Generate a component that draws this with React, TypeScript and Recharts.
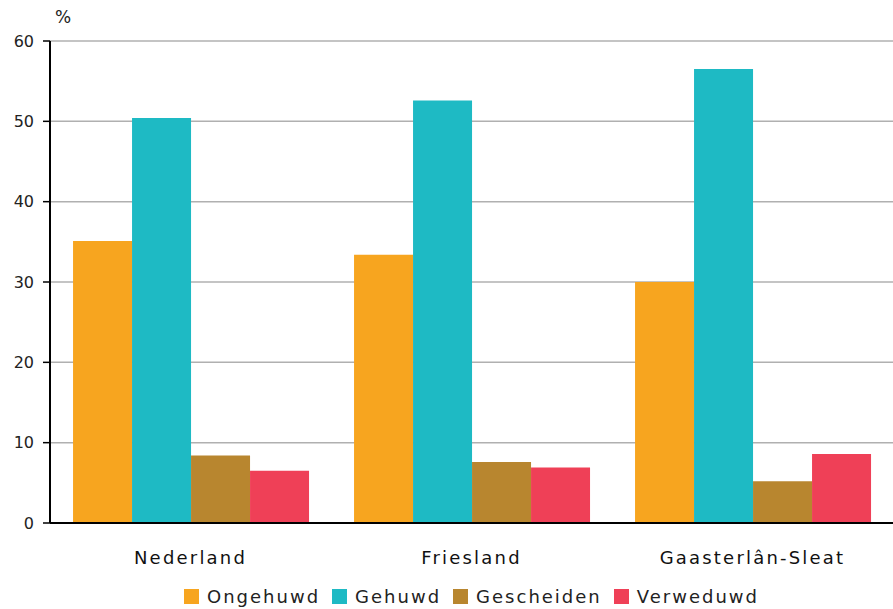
import { BarChart, Bar, XAxis, YAxis, CartesianGrid, Legend } from 'recharts'

const regions = ['Nederland', 'Friesland', 'Gaasterlân-Sleat']
const ongehuwd = [35.1, 33.4, 30.0]
const gehuwd = [50.4, 52.6, 56.5]
const gescheiden = [8.4, 7.6, 5.2]
const verweduwd = [6.5, 6.9, 8.6]
const yTicks = [0, 10, 20, 30, 40, 50, 60]

const series = [
  { key: 'Ongehuwd', color: '#F7A51F' },
  { key: 'Gehuwd', color: '#1EBAC4' },
  { key: 'Gescheiden', color: '#B8862F' },
  { key: 'Verweduwd', color: '#EF4057' },
]

const data = regions.map((name, i) => ({
  name,
  Ongehuwd: ongehuwd[i],
  Gehuwd: gehuwd[i],
  Gescheiden: gescheiden[i],
  Verweduwd: verweduwd[i],
}))

const font = '"DejaVu Sans", sans-serif'

function LegendRow() {
  return (
    <div
      style={{
        display: 'flex',
        justifyContent: 'center',
        alignItems: 'center',
        height: 26,
        fontFamily: font,
        fontSize: 18,
        letterSpacing: 2,
        color: '#222',
      }}
    >
      {series.map((s, i) => (
        <span
          key={s.key}
          style={{ display: 'flex', alignItems: 'center', marginRight: i < series.length - 1 ? 12 : 0 }}
        >
          <span style={{ width: 15, height: 15, background: s.color, marginRight: 8, display: 'inline-block' }} />
          {s.key}
        </span>
      ))}
    </div>
  )
}

export default function App() {
  return (
    <div style={{ position: 'absolute', left: 0, top: 0, width: 893, height: 609, background: '#fff' }}>
      <div
        style={{
          position: 'absolute',
          left: 55,
          top: 7,
          fontFamily: font,
          fontSize: 17,
          color: '#222',
        }}
      >
        %
      </div>
      <BarChart
        width={893}
        height={609}
        data={data}
        margin={{ top: 41, right: 0, left: 0, bottom: 0 }}
        barCategoryGap="8.2%"
        barGap={0}
      >
        <CartesianGrid vertical={false} stroke="#b0b0b0" strokeWidth={1.5} />
        <XAxis
          dataKey="name"
          height={60}
          axisLine={{ stroke: '#000', strokeWidth: 2 }}
          tickLine={false}
          tickMargin={22}
          tick={{ fontFamily: font, fontSize: 18, fill: '#111', letterSpacing: 2.2 }}
        />
        <YAxis
          width={50}
          domain={[0, 60]}
          ticks={yTicks}
          interval={0}
          axisLine={{ stroke: '#000', strokeWidth: 2 }}
          tickLine={{ stroke: '#000', strokeWidth: 1.5 }}
          tickSize={7}
          tickMargin={9}
          tick={{ fontFamily: font, fontSize: 16, fill: '#222' }}
        />
        <Legend
          verticalAlign="bottom"
          content={() => <LegendRow />}
          wrapperStyle={{ bottom: 0, left: 50, width: 843, height: 26 }}
        />
        {series.map((s) => (
          <Bar key={s.key} dataKey={s.key} fill={s.color} isAnimationActive={false} />
        ))}
      </BarChart>
    </div>
  )
}
